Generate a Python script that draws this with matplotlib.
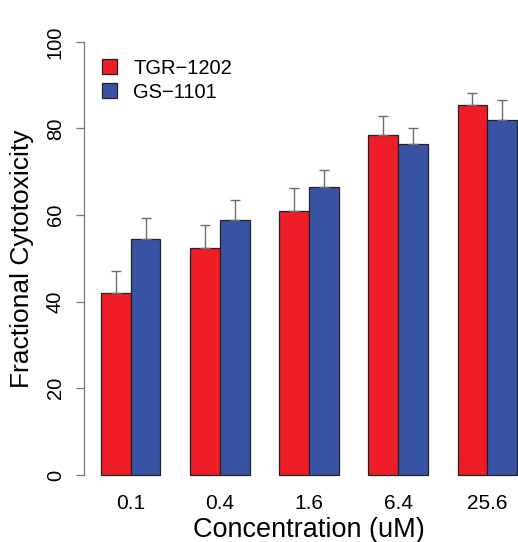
import numpy as np
import matplotlib
matplotlib.use("Agg")
import matplotlib.pyplot as plt

plt.rcParams['font.family'] = ['Liberation Sans', 'DejaVu Sans']

concentrations = ["0.1", "0.4", "1.6", "6.4", "25.6"]
tgr_1202 = [42.0, 52.3, 61.0, 78.4, 85.5]
tgr_1202_err = [5.2, 5.5, 5.2, 4.4, 2.7]
gs_1101 = [54.6, 58.8, 66.4, 76.5, 81.9]
gs_1101_err = [4.8, 4.7, 4.1, 3.5, 4.7]
y_ticks = [0, 20, 40, 60, 80, 100]

red = "#ee1d27"
blue = "#3953a4"
err_col = "#6e6e6e"

fig = plt.figure(figsize=(5.18, 5.42), dpi=100)
ax = fig.add_axes([0.163, 0.0917, 0.867, 0.863])

# R-style barplot layout: two bars of width 1 per group, one unit gap between groups
x = 3 * np.arange(len(concentrations)) + 2.0
ax.bar(x - 0.5, tgr_1202, width=1.0, color=red, edgecolor="#222222", linewidth=0.9, label="TGR\u22121202")
ax.bar(x + 0.5, gs_1101, width=1.0, color=blue, edgecolor="#222222", linewidth=0.9, label="GS\u22121101")
ax.errorbar(x - 0.5, tgr_1202, yerr=[np.zeros(len(tgr_1202)), tgr_1202_err],
            fmt="none", ecolor=err_col, elinewidth=1.0, capsize=3.6, capthick=1.0)
ax.errorbar(x + 0.5, gs_1101, yerr=[np.zeros(len(gs_1101)), gs_1101_err],
            fmt="none", ecolor=err_col, elinewidth=1.0, capsize=3.6, capthick=1.0)

ax.set_xlim(0.44, 15.56)
ax.set_ylim(-4, 104)

for s in ["top", "right", "bottom"]:
    ax.spines[s].set_visible(False)
ax.spines["left"].set_bounds(0, 100)
ax.spines["left"].set_color("#777777")
ax.spines["left"].set_linewidth(0.9)

ax.set_yticks(y_ticks)
ax.set_yticklabels([str(t) for t in y_ticks], rotation=90, va="center", fontsize=14.5)
ax.tick_params(axis="y", length=6, width=0.9, color="#777777", pad=8)
ax.set_xticks(x)
ax.set_xticklabels(concentrations, fontsize=15)
ax.tick_params(axis="x", length=0, pad=1)

ax.set_ylabel("Fractional Cytotoxicity", fontsize=19)
ax.yaxis.set_label_coords(-0.112, 0.5)
ax.set_xlabel("Concentration (uM)", fontsize=19.5)
ax.xaxis.set_label_coords(0.5, -0.053)

ax.legend(loc="upper left", bbox_to_anchor=(0.178, 0.91), bbox_transform=fig.transFigure,
          frameon=False, fontsize=14.5, handlelength=0.75, handleheight=0.75,
          handletextpad=0.8, labelspacing=0.25, borderpad=0)

fig.savefig("out.png", dpi=100)
